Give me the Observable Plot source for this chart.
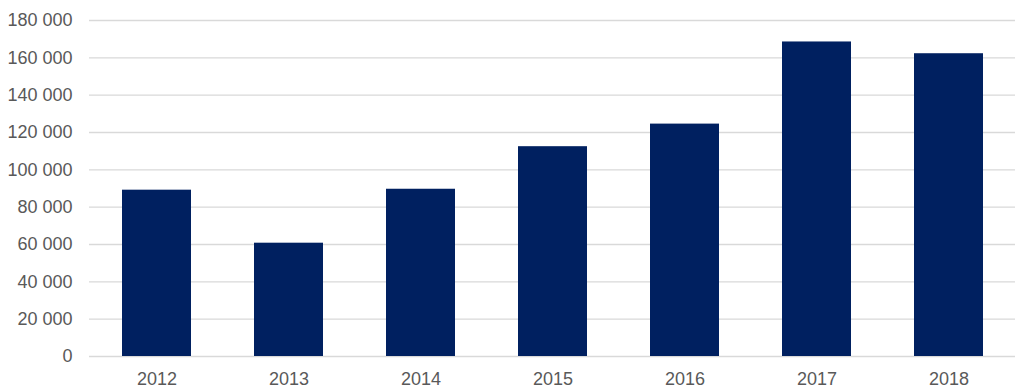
<!DOCTYPE html>
<html>
<head>
<meta charset="utf-8">
<script src="https://cdn.jsdelivr.net/npm/d3@7"></script>
<script src="https://cdn.jsdelivr.net/npm/@observablehq/plot@0.6"></script>
<style>
  html, body { margin: 0; padding: 0; background: #ffffff; }
  #chart { width: 1024px; height: 391px; }
</style>
</head>
<body>
<div id="chart"></div>
<script>
const years = ["2012", "2013", "2014", "2015", "2016", "2017", "2018"];
const values = [89100, 60700, 89600, 112400, 124500, 168500, 162200];
const yTicks = [0, 20000, 40000, 60000, 80000, 100000, 120000, 140000, 160000, 180000];

const data = years.map((y, i) => ({year: y, value: values[i]}));
const fmt = d => d3.format(",")(d).replace(/,/g, " ");

const chart = Plot.plot({
  width: 1024,
  height: 391,
  marginLeft: 89,
  marginRight: 9,
  marginTop: 20,
  marginBottom: 35,
  style: {
    fontFamily: "'Liberation Sans', Arial, sans-serif",
    fontSize: "18px",
    color: "#595959",
    background: "#ffffff"
  },
  x: { domain: years, paddingInner: 0.48, paddingOuter: 0.24, label: null },
  y: { domain: [0, 180000], label: null },
  marks: [
    Plot.ruleY(yTicks, { stroke: "#d9d9d9", strokeWidth: 1.3 }),
    Plot.barY(data, { x: "year", y: "value", fill: "#002060" }),
    Plot.axisY({ ticks: yTicks, tickFormat: fmt, tickSize: 0, tickPadding: 17, label: null, fill: "#595959", fontSize: 18 }),
    Plot.axisX({ tickSize: 0, tickPadding: 16, label: null, fill: "#595959", fontSize: 18 })
  ]
});
document.getElementById("chart").appendChild(chart);
</script>
</body>
</html>
